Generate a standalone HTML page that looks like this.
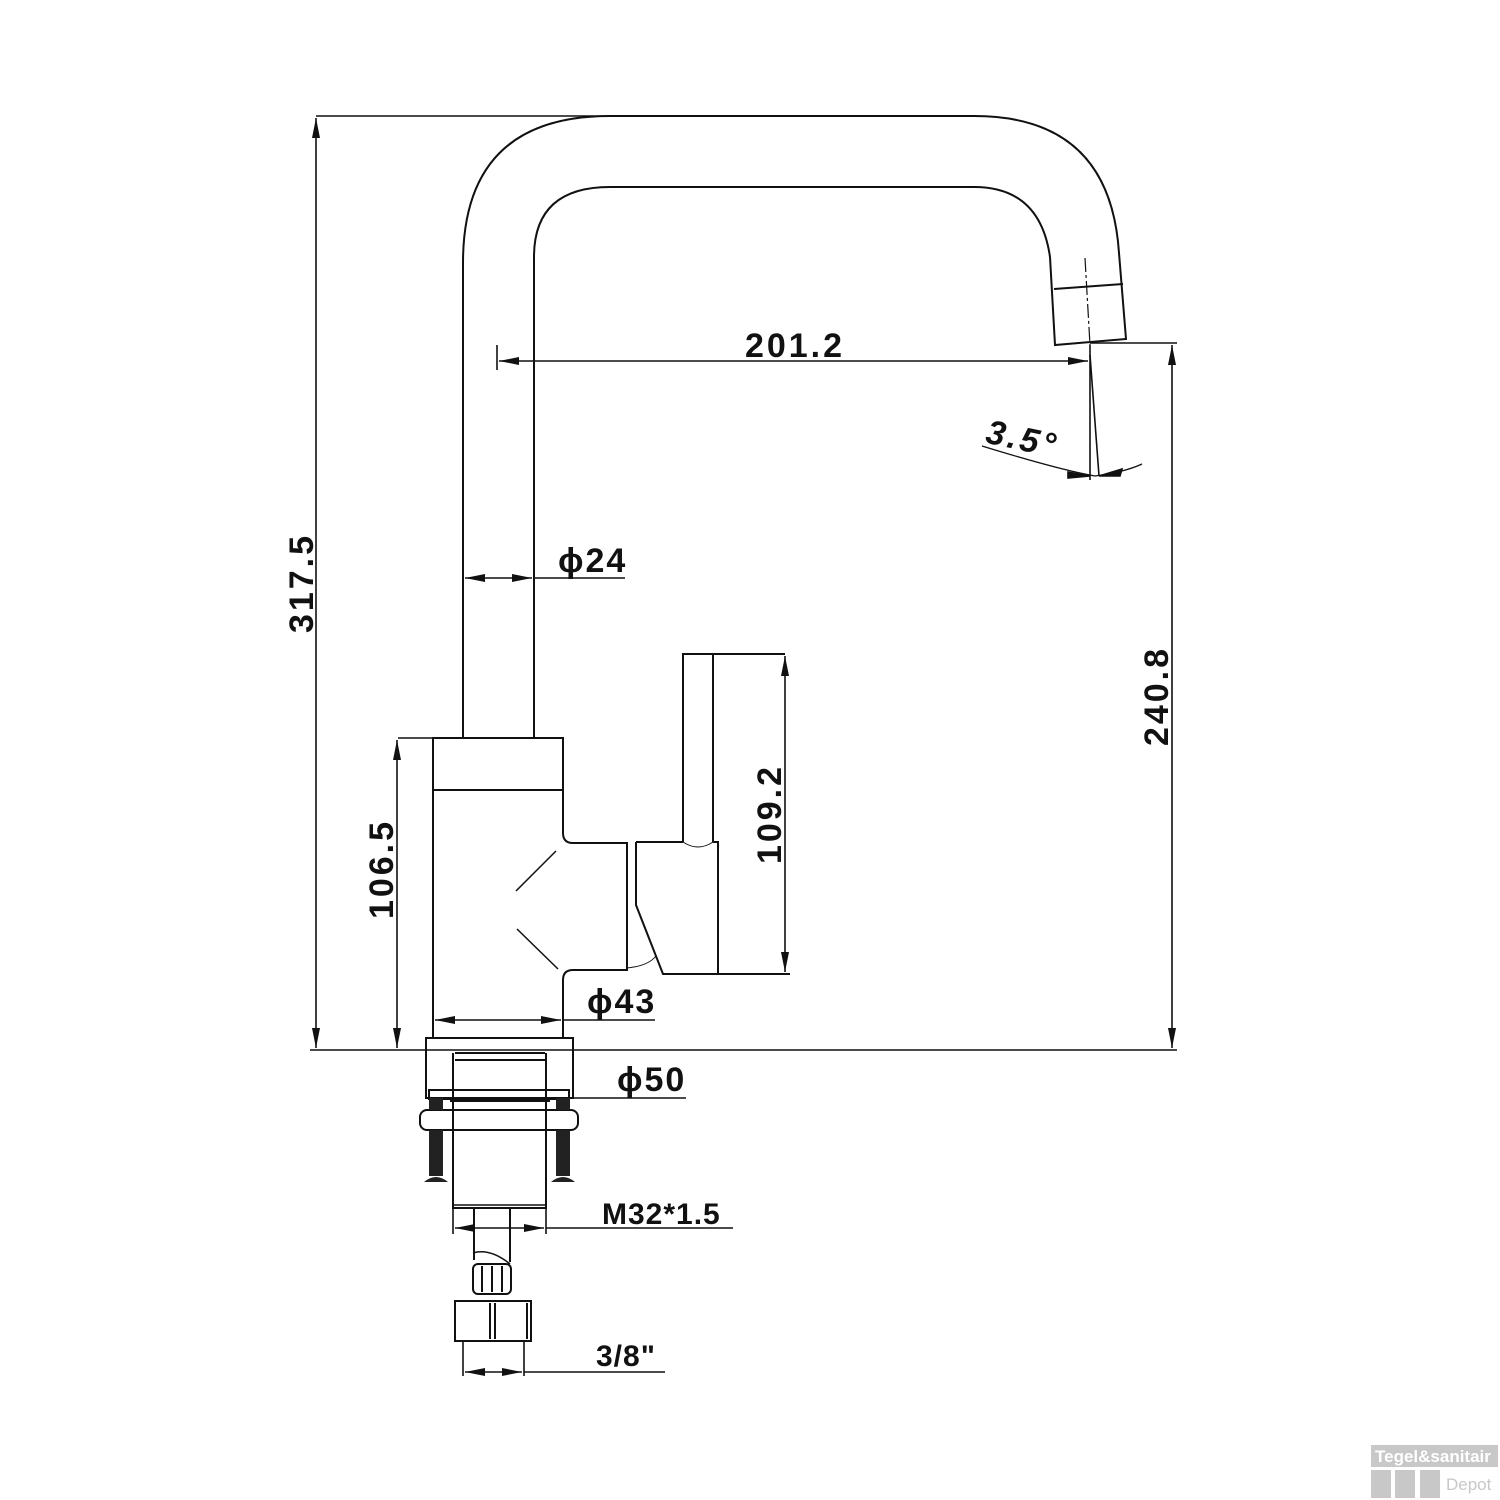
<!DOCTYPE html>
<html><head><meta charset="utf-8"><style>
html,body{margin:0;padding:0;background:#fff}
svg{display:block}
text{font-family:"Liberation Sans Narrow","Liberation Sans",sans-serif;font-weight:bold;fill:#111}
</style></head><body>
<svg width="1500" height="1500" viewBox="0 0 1500 1500" xmlns="http://www.w3.org/2000/svg">
<defs>
<marker id="a" viewBox="0 0 20 8" refX="20" refY="4" markerWidth="20" markerHeight="8" markerUnits="userSpaceOnUse" orient="auto-start-reverse"><path d="M0,0 L20,4 L0,8 z" fill="#111"/></marker>
</defs>
<g fill="none" stroke="#111" stroke-width="2">
<!-- spout -->
<path d="M463,738 L463,263 Q463,116 610,116 L974,116 Q1110,116 1119,253 L1126,339 L1055,345 L1050,257 Q1040,187 974,187 L610,187 Q534,187 534,257 L534,738"/>
<line x1="1054" y1="289" x2="1123" y2="284"/>
<line x1="1085" y1="258" x2="1090" y2="345" stroke-width="1.2" stroke-dasharray="14,3,3,3"/>
<!-- body -->
<path d="M433,1038 L433,738 L563,738 L563,833 Q563,843 573,843 L627,843 L627,970 L573,970 Q563,970 563,980 L563,1038"/>
<line x1="433" y1="790" x2="563" y2="790"/>
<line x1="556" y1="851" x2="516" y2="891" stroke-width="1.5"/>
<line x1="517" y1="929" x2="558" y2="969" stroke-width="1.5"/>
<!-- handle -->
<path d="M683,842 L683,654 L785,654"/>
<line x1="713" y1="654" x2="713" y2="842"/>
<path d="M636,842 L683,842 M713,842 L718,842 L718,974 L663,974 L636,905 L636,842"/>
<path d="M683,842 Q698,852 713,842" stroke-width="1"/>
<path d="M627,968 Q648,966 656,956" stroke-width="1"/>
<line x1="718" y1="974" x2="790" y2="974"/>
<!-- base -->
<rect x="426" y="1038" width="147" height="60"/>
<path d="M453,1053 L453,1208 L546,1208 L546,1053"/>
<line x1="455" y1="1060" x2="545" y2="1060"/>
<line x1="455" y1="1053" x2="545" y2="1053"/>
<rect x="429" y="1090" width="140" height="9"/>
<line x1="450" y1="1101" x2="550" y2="1101"/>
<rect x="420" y="1110" width="158" height="20" rx="7"/>
<line x1="453" y1="1205" x2="546" y2="1205" stroke-width="1.5"/>
<path d="M474,1208 L474,1260 M510,1208 L510,1262"/>
<path d="M473,1253 Q490,1248 510,1264" stroke-width="1.5"/>
<rect x="473" y="1264" width="38" height="30" rx="5"/>
<line x1="482" y1="1266" x2="482" y2="1292"/>
<line x1="492" y1="1266" x2="492" y2="1292"/>
<line x1="502" y1="1266" x2="502" y2="1292"/>
<rect x="455" y="1301" width="76" height="40"/>
<line x1="490" y1="1303" x2="490" y2="1339"/>
<line x1="495" y1="1303" x2="495" y2="1339"/>
<line x1="527" y1="1303" x2="527" y2="1339"/>
</g>
<!-- screws -->
<g fill="#222">
<rect x="429" y="1098" width="14" height="12"/>
<rect x="556" y="1098" width="14" height="12"/>
<rect x="429" y="1130" width="14" height="46"/>
<rect x="556" y="1130" width="14" height="46"/>
<path d="M424,1182 Q436,1172 448,1182 z"/>
<path d="M551,1182 Q563,1172 575,1182 z"/>
</g>
<!-- dimensions -->
<g fill="none" stroke="#111" stroke-width="1.6">
<line x1="316" y1="116" x2="974" y2="116"/>
<line x1="316" y1="118" x2="316" y2="1048" marker-start="url(#a)" marker-end="url(#a)"/>
<line x1="310" y1="1050" x2="1177" y2="1050"/>
<line x1="1090" y1="343" x2="1177" y2="343"/>
<line x1="1172" y1="345" x2="1172" y2="1048" marker-start="url(#a)" marker-end="url(#a)"/>
<line x1="497" y1="345" x2="497" y2="370"/>
<line x1="499" y1="361" x2="1088" y2="361" marker-start="url(#a)" marker-end="url(#a)"/>
<line x1="1090" y1="345" x2="1090" y2="480"/>
<line x1="1090" y1="355" x2="1099" y2="476"/>
<path d="M982,446 Q1060,470 1095,476 Q1125,472 1142,464" stroke-width="1.3"/>
<path d="M1068,472 L1090,476 L1068,478 z" fill="#111"/>
<path d="M1122,469 L1099,476 L1120,476 z" fill="#111"/>
<line x1="398" y1="738" x2="433" y2="738"/>
<line x1="397" y1="740" x2="397" y2="1048" marker-start="url(#a)" marker-end="url(#a)"/>
<line x1="785" y1="656" x2="785" y2="972" marker-start="url(#a)" marker-end="url(#a)"/>
<line x1="465" y1="578" x2="532" y2="578" marker-start="url(#a)" marker-end="url(#a)"/>
<line x1="534" y1="578" x2="625" y2="578"/>
<line x1="435" y1="1020" x2="561" y2="1020" marker-start="url(#a)" marker-end="url(#a)"/>
<line x1="563" y1="1020" x2="655" y2="1020"/>
<line x1="573" y1="1098" x2="686" y2="1098"/>
<line x1="453" y1="1208" x2="453" y2="1234"/>
<line x1="546" y1="1208" x2="546" y2="1234"/>
<line x1="455" y1="1228" x2="544" y2="1228" marker-start="url(#a)" marker-end="url(#a)"/>
<line x1="546" y1="1228" x2="733" y2="1228"/>
<line x1="463" y1="1341" x2="463" y2="1376"/>
<line x1="524" y1="1341" x2="524" y2="1376"/>
<line x1="465" y1="1372" x2="522" y2="1372" marker-start="url(#a)" marker-end="url(#a)"/>
<line x1="524" y1="1372" x2="665" y2="1372"/>
</g>
<!-- labels -->
<g font-size="34">
<text x="795" y="357" text-anchor="middle" letter-spacing="3">201.2</text>
<text x="313" y="583" text-anchor="middle" letter-spacing="3" transform="rotate(-90 313 583)">317.5</text>
<text x="1168" y="696" text-anchor="middle" letter-spacing="3" transform="rotate(-90 1168 696)">240.8</text>
<text x="393" y="869" text-anchor="middle" letter-spacing="3" transform="rotate(-90 393 869)">106.5</text>
<text x="781" y="814" text-anchor="middle" letter-spacing="3" transform="rotate(-90 781 814)">109.2</text>
<text x="1020" y="450" text-anchor="middle" font-style="italic" font-weight="normal" letter-spacing="3" transform="rotate(12 1020 450)">3.5°</text>
<text x="558" y="572" letter-spacing="2">ϕ24</text>
<text x="587" y="1013" letter-spacing="2">ϕ43</text>
<text x="617" y="1091" letter-spacing="2">ϕ50</text>
<text x="602" y="1224" font-size="30" letter-spacing="1">M32*1.5</text>
<text x="596" y="1366" font-size="30" letter-spacing="1">3/8"</text>
</g>
<!-- logo -->
<rect x="1371" y="1445" width="127" height="22" fill="#c8c8c8"/>
<text x="1375" y="1462" font-size="17" font-family="Liberation Sans,sans-serif" style="fill:#fff">Tegel&amp;sanitair</text>
<rect x="1371" y="1470" width="20" height="28" fill="#c8c8c8"/>
<rect x="1395" y="1470" width="20" height="28" fill="#c8c8c8"/>
<rect x="1420" y="1470" width="20" height="28" fill="#c8c8c8"/>
<text x="1446" y="1490" font-size="17" font-weight="normal" font-family="Liberation Sans,sans-serif" style="fill:#c8c8c8;font-weight:normal">Depot</text>
</svg>
</body></html>
